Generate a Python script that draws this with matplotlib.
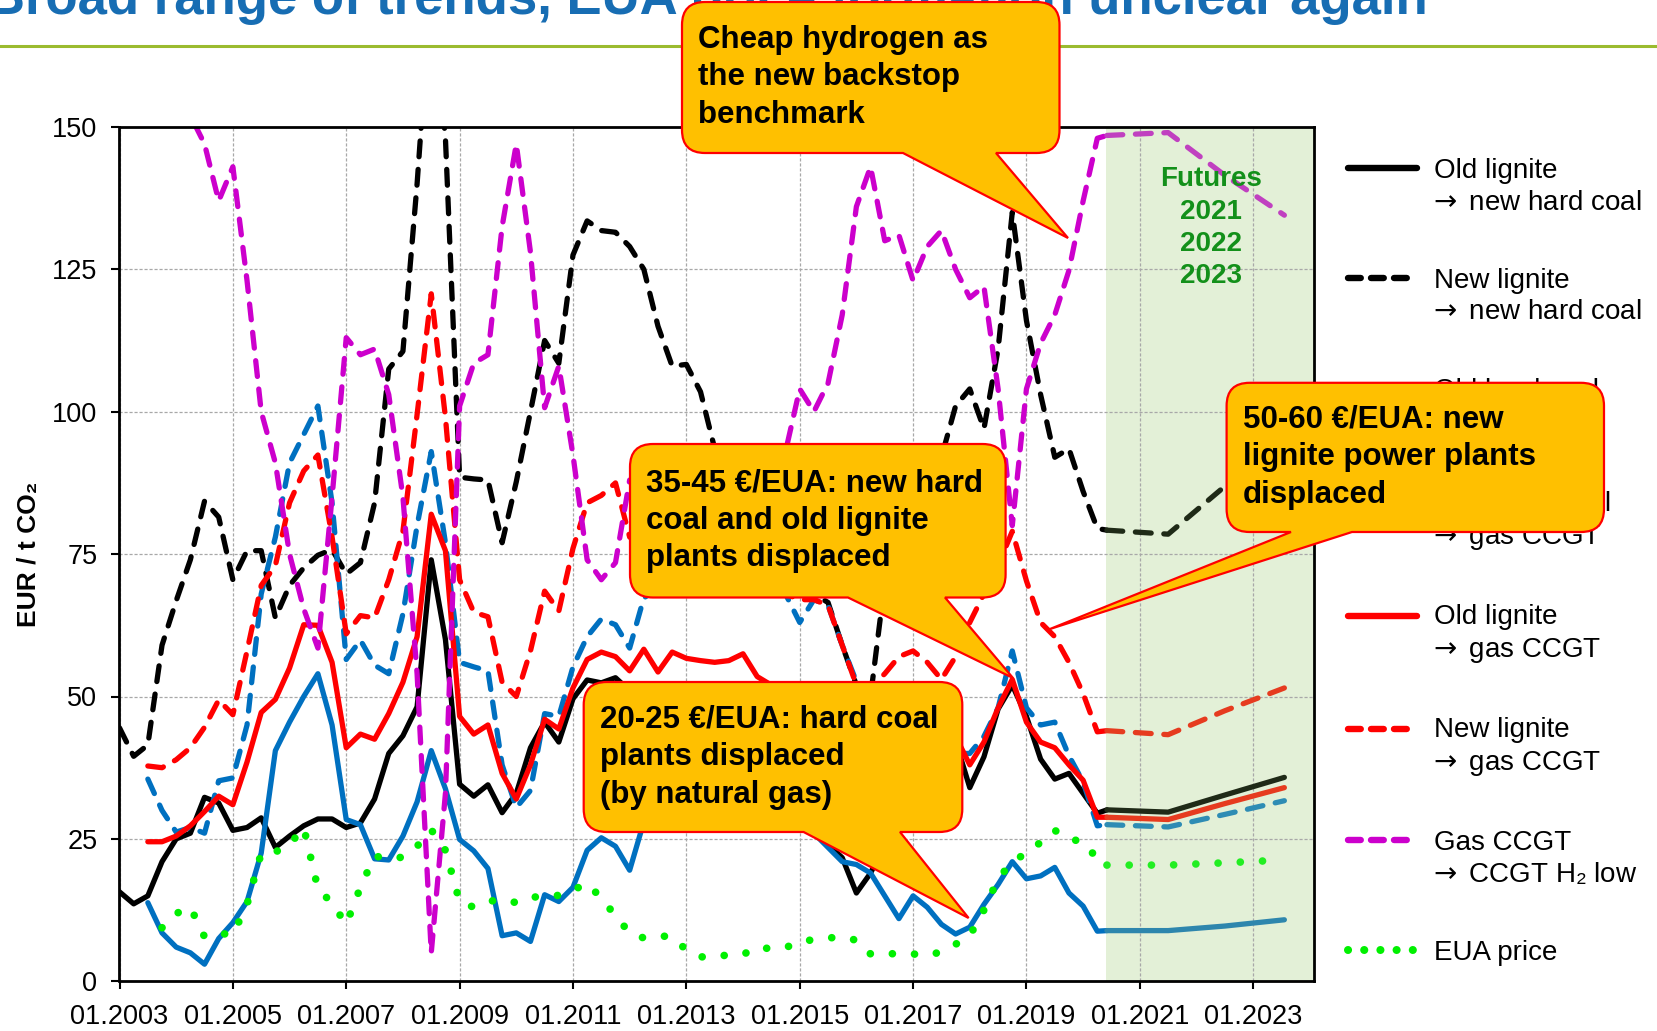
"""EUA fuel-switch price chart with futures and callouts (recreation)."""

import numpy as np
import matplotlib

matplotlib.use("Agg")
import matplotlib.pyplot as plt  # noqa: E402
from matplotlib.lines import Line2D  # noqa: E402
from matplotlib.path import Path  # noqa: E402
from matplotlib.patches import PathPatch  # noqa: E402
from matplotlib.legend_handler import HandlerLine2D  # noqa: E402

plt.rcParams["font.family"] = ["Liberation Sans", "DejaVu Sans"]

W, H = 1658, 1031
nan = np.nan

# ---- data (EUR / t CO2), quarterly from 01.2003 to 2020.25 ----
quarters = 2003 + np.arange(70) / 4.0

old_lig_hc = [15.7, 13.6, 15.0, 21.0, 25.0, 26.0, 32.3, 31.3, 26.5, 27.0, 28.7, 23.5,
              25.5, 27.3, 28.5, 28.5, 27.0, 27.8, 32.0, 40.0, 43.1, 48.2, 74.0, 60.0,
              34.6, 32.5, 34.5, 29.6, 33.0, 41.0, 45.5, 42.0, 49.6, 52.9, 52.4, 53.3,
              51.0, 49.0, 47.0, 45.0, 44.0, 43.0, 42.0, 40.0, 38.0, 36.0, 34.0, 31.0,
              28.0, 26.0, 24.0, 21.7, 15.5, 19.0, 24.0, 30.0, 34.0, 37.0, 40.0, 42.2,
              34.0, 39.4, 47.8, 52.0, 46.5, 39.0, 35.5, 36.5, 33.0, 29.5]
new_lig_hc = [44.5, 39.5, 41.5, 59.0, 66.8, 74.0, 84.3, 81.5, 70.5, 75.6, 75.6, 63.8,
              69.5, 72.6, 74.8, 75.8, 71.5, 73.5, 84.0, 107.5, 110.6, 140.0, 175.0, 148.0,
              88.5, 88.2, 88.0, 77.0, 87.7, 100.0, 112.5, 108.5, 127.5, 133.5, 131.8, 131.5,
              129.0, 125.0, 115.0, 108.0, 108.3, 103.5, 93.5, 88.0, 85.0, 82.0, 78.0, 74.0,
              70.0, 68.0, 66.5, 59.0, 52.0, 50.0, 70.0, 80.0, 85.0, 88.0, 92.0, 101.0,
              104.0, 97.0, 111.0, 135.0, 116.0, 103.0, 92.0, 93.5, 86.0, 79.5]
old_hc_gas = [nan, nan, 13.8, 8.5, 6.0, 5.0, 3.0, 7.5, 10.3, 14.0, 22.5, 40.5,
              45.5, 50.0, 54.0, 45.0, 28.4, 27.5, 21.5, 21.3, 25.5, 31.5, 40.5, 33.8,
              24.9, 22.9, 19.8, 8.0, 8.5, 7.0, 15.2, 14.0, 16.5, 23.0, 25.2, 23.7,
              19.5, 28.0, 31.0, 33.0, 34.0, 34.0, 33.0, 32.0, 31.0, 30.0, 29.0, 28.0,
              27.0, 26.0, 23.5, 21.0, 20.5, 19.0, 15.0, 11.0, 15.0, 13.0, 10.0, 8.3,
              9.5, 13.5, 17.0, 21.0, 18.0, 18.5, 20.0, 15.5, 13.2, 8.8]
new_hc_gas = [nan, nan, 35.5, 30.0, 26.2, 27.0, 26.0, 35.2, 35.7, 45.0, 68.0, 78.0,
              91.0, 96.0, 101.0, 84.0, 56.5, 59.9, 55.5, 54.0, 64.5, 80.0, 93.0, 77.0,
              56.0, 55.2, 54.5, 38.0, 30.5, 33.5, 47.0, 46.5, 55.2, 60.5, 63.6, 62.6,
              58.5, 67.3, 69.0, 71.0, 72.0, 72.0, 71.0, 70.0, 70.0, 69.5, 69.0, 68.0,
              63.0, 67.0, 66.0, 59.0, 52.6, 46.0, 41.0, 37.0, 38.0, 39.0, 37.0, 40.0,
              40.0, 43.0, 48.0, 58.0, 48.0, 45.0, 45.5, 39.6, 35.0, 27.3]
old_lig_gas = [nan, nan, 24.5, 24.5, 25.5, 27.3, 29.8, 32.5, 31.0, 38.5, 47.2, 49.5,
               55.0, 62.6, 62.5, 56.0, 41.0, 43.4, 42.5, 47.0, 52.5, 60.5, 82.0, 75.6,
               46.5, 43.4, 45.0, 36.5, 32.0, 38.0, 46.0, 44.3, 51.5, 56.5, 57.8, 57.0,
               54.5, 58.3, 54.3, 57.8, 56.7, 56.3, 56.0, 56.3, 57.5, 53.5, 52.0, 50.0,
               46.0, 42.0, 37.0, 32.0, 29.0, 31.0, 33.0, 35.0, 37.0, 39.0, 41.0, 43.0,
               38.0, 42.0, 48.0, 53.0, 45.5, 42.0, 41.0, 38.0, 35.3, 28.8]
new_lig_gas = [nan, nan, 37.8, 37.5, 38.9, 41.0, 44.6, 49.4, 46.8, 58.0, 69.5, 73.0,
               84.0, 89.6, 92.4, 78.0, 61.0, 64.2, 63.8, 70.5, 79.0, 99.5, 120.7, 99.0,
               70.5, 64.8, 64.0, 52.5, 50.0, 58.0, 68.5, 65.0, 76.0, 84.0, 85.3, 87.5,
               78.0, 76.0, 75.0, 76.0, 77.0, 76.0, 75.0, 74.0, 73.0, 72.0, 70.0, 68.0,
               67.0, 67.0, 66.0, 59.0, 52.0, 51.5, 54.0, 57.0, 58.0, 56.0, 53.0, 57.0,
               63.0, 68.0, 73.0, 79.0, 70.3, 63.0, 60.5, 56.0, 50.5, 43.8]
gas_h2 = [nan, nan, nan, nan, 160.0, 152.0, 147.0, 137.0, 143.0, 123.0, 100.0, 91.0,
          75.0, 65.4, 58.5, 85.0, 113.0, 110.0, 111.0, 103.0, 85.0, 54.0, 5.0, 33.0,
          101.0, 108.5, 110.0, 132.5, 147.0, 128.0, 100.7, 108.0, 92.4, 74.0, 70.5, 73.5,
          88.0, 84.0, 80.0, 78.0, 78.0, 80.0, 82.0, 84.0, 86.0, 88.0, 90.0, 93.0,
          104.0, 100.0, 105.0, 117.0, 136.0, 143.0, 130.0, 131.0, 123.0, 129.0, 131.8, 125.0,
          120.0, 122.0, 104.0, 80.0, 104.0, 112.0, 117.0, 124.8, 137.0, 148.0]
eua = [nan, nan, nan, 9.4, 11.9, 13.0, 7.8, 8.4, 8.2, 13.5, 22.5, 22.7,
       24.0, 27.0, 16.3, 13.7, 10.0, 16.5, 22.0, 21.5, 21.8, 23.7, 26.6, 23.0,
       14.0, 13.0, 14.0, 14.4, 13.8, 14.8, 14.8, 15.1, 16.0, 17.2, 14.6, 11.5,
       8.5, 7.6, 8.0, 7.8, 5.5, 4.3, 4.2, 4.7, 4.7, 6.0, 5.7, 5.9,
       7.0, 7.3, 7.6, 7.8, 7.2, 4.8, 5.0, 4.7, 4.8, 4.5, 5.2, 6.5,
       8.0, 12.5, 18.0, 21.0, 22.5, 24.4, 26.5, 25.0, 24.5, 21.5]

# futures 2021 / 2022 / 2023 (first point = start of futures window)
fut_t = [2020.42, 2021.5, 2022.5, 2023.55]
fut_old_lig_hc = [30.1, 29.7, 32.7, 35.8]
fut_new_lig_hc = [79.2, 78.5, 86.9, 94.0]
fut_old_hc_gas = [8.9, 8.9, 9.7, 10.8]
fut_new_hc_gas = [27.5, 27.1, 29.3, 31.7]
fut_old_lig_gas = [28.8, 28.4, 31.2, 34.0]
fut_new_lig_gas = [44.0, 43.3, 47.5, 51.5]
fut_gas_h2 = [148.5, 149.0, 141.5, 134.5]
fut_eua = [20.4, 20.4, 20.8, 21.3]

futures_start = 2020.41
year_ticks = list(range(2003, 2024, 2))

DASH = (3.0, 2.4)
DOT = (0.01, 2.9)
ARROW = r"$\!\!\!\rightarrow$"

series = [
    (f"Old lignite\n{ARROW} new hard coal", old_lig_hc, fut_old_lig_hc, "#000000", "#1f2a17", None),
    (f"New lignite\n{ARROW} new hard coal", new_lig_hc, fut_new_lig_hc, "#000000", "#1f2a17", DASH),
    (f"Old hard coal\n{ARROW} gas CCGT", old_hc_gas, fut_old_hc_gas, "#0070c0", "#2e86ad", None),
    (f"New hard coal\n{ARROW} gas CCGT", new_hc_gas, fut_new_hc_gas, "#0070c0", "#2e8cb4", DASH),
    (f"Old lignite\n{ARROW} gas CCGT", old_lig_gas, fut_old_lig_gas, "#ff0000", "#e63b1f", None),
    (f"New lignite\n{ARROW} gas CCGT", new_lig_gas, fut_new_lig_gas, "#ff0000", "#e63b1f", DASH),
    (f"Gas CCGT\n{ARROW} CCGT H₂ low", gas_h2, fut_gas_h2, "#cc00cc", "#c040c0", DASH),
    ("EUA price", eua, fut_eua, "#00f000", "#22ee22", DOT),
]


class UpperLine(HandlerLine2D):
    """Legend line raised to the first row of a two-line label."""

    def __init__(self, shift, **kw):
        super().__init__(**kw)
        self.shift = shift

    def create_artists(self, legend, orig_handle, xdescent, ydescent, width, height,
                       fontsize, trans):
        arts = super().create_artists(legend, orig_handle, xdescent, ydescent, width,
                                      height, fontsize, trans)
        for a in arts:
            a.set_ydata(np.asarray(a.get_ydata(), float) + self.shift)
        return arts


def callout(fig, box, base, tip, lines, fs=22.5):
    """Rounded callout box with a pointer; coordinates in image pixels (y down)."""
    x0, y0, x1, y1 = box
    r = 23
    ba, bb = base
    pts = [
        ((x0 + r, y0), Path.MOVETO), ((x1 - r, y0), Path.LINETO),
        ((x1, y0), Path.CURVE3), ((x1, y0 + r), Path.CURVE3),
        ((x1, y1 - r), Path.LINETO),
        ((x1, y1), Path.CURVE3), ((x1 - r, y1), Path.CURVE3),
        ((bb, y1), Path.LINETO), (tip, Path.LINETO), ((ba, y1), Path.LINETO),
        ((x0 + r, y1), Path.LINETO),
        ((x0, y1), Path.CURVE3), ((x0, y1 - r), Path.CURVE3),
        ((x0, y0 + r), Path.LINETO),
        ((x0, y0), Path.CURVE3), ((x0 + r, y0), Path.CURVE3),
        ((x0 + r, y0), Path.CLOSEPOLY),
    ]
    verts = [(px / W, 1 - py / H) for (px, py), _ in pts]
    codes = [c for _, c in pts]
    patch = PathPatch(Path(verts, codes), transform=fig.transFigure,
                      facecolor="#ffc000", edgecolor="#ff0000", lw=1.6, zorder=10)
    fig.add_artist(patch)
    ty = (y0 + y1) / 2
    fig.text((x0 + 16) / W, 1 - ty / H, lines, ha="left", va="center",
             fontsize=fs, fontweight="bold", linespacing=1.33, zorder=11)


def main() -> None:
    fig = plt.figure(figsize=(W / 100, H / 100), dpi=100)
    ax = fig.add_axes([119.5 / W, 1 - 981.3 / H, (1314.4 - 119.5) / W, (981.3 - 126.9) / H])

    ax.axvspan(futures_start, 2024.08, color="#e3f0d7", zorder=0, lw=0)

    handles = []
    hmap = {}
    for label, hist, fut, col, fcol, dash in series:
        t_h = list(quarters) + [fut_t[0]]
        v_h = list(hist) + [fut[0]]
        lw = 5.5 if dash is DOT else 3.8
        kw = dict(lw=lw, solid_capstyle="round", dash_capstyle="round", zorder=3)
        if dash is None:
            ax.plot(t_h, v_h, color=col, **kw)
            ax.plot(fut_t, fut, color=fcol, **kw)
        else:
            ax.plot(t_h, v_h, color=col, dashes=dash, **kw)
            ax.plot(fut_t, fut, color=fcol, dashes=dash, **kw)
        hkw = dict(lw=4.6, solid_capstyle="round", dash_capstyle="round")
        if dash is None:
            h = Line2D([], [], color=col, **hkw)
        elif dash is DOT:
            h = Line2D([], [], color=col, lw=5.8, dashes=(0.01, 2.0), dash_capstyle="round")
        else:
            h = Line2D([], [], color=col, dashes=(2.0, 1.6), **hkw)
        handles.append(h)
        hmap[h] = UpperLine(shift=13.5 if "\n" in label else 0.0)

    ax.set_xlim(2003, 2024.08)
    ax.set_ylim(0, 150)
    ax.set_yticks([0, 25, 50, 75, 100, 125, 150])
    ax.set_xticks(year_ticks)
    ax.set_xticklabels([f"01.{y}" for y in year_ticks])
    ax.tick_params(axis="both", labelsize=19.5, length=6, width=1.5, direction="out")
    ax.tick_params(axis="x", pad=10)
    ax.tick_params(axis="y", pad=10)
    ax.grid(True, color="#a8a8a8", ls=(0, (2.5, 1.5)), lw=0.9, zorder=1)
    for sp in ax.spines.values():
        sp.set_linewidth(2.0)
        sp.set_zorder(4)
    ax.set_ylabel("EUR / t CO₂", fontsize=19, fontweight="bold", labelpad=8)

    ax.text(2022.26, 132.3, "Futures\n2021\n2022\n2023", ha="center", va="center",
            fontsize=20, fontweight="bold", color="#13901a", linespacing=1.31, zorder=5)

    leg = ax.legend(handles, [s[0] for s in series], loc="upper left",
                    bbox_to_anchor=(1348 / W, 1 - 158 / H), bbox_transform=fig.transFigure,
                    frameon=False, fontsize=20, handlelength=2.5, handletextpad=0.6,
                    labelspacing=1.88, borderpad=0, borderaxespad=0, handler_map=hmap)
    for t in leg.get_texts():
        t.set_linespacing(1.28)

    # title strip (cut off at the top of the slide) and separator line
    fig.text(1428 / W, 1 - 14 / H, "Broad range of trends, EUA price formation unclear again",
             ha="right", va="baseline", fontsize=38, fontweight="bold", color="#176db3")
    fig.add_artist(Line2D([0, 1], [1 - 45.5 / H] * 2, transform=fig.transFigure,
                          color="#9bbb2f", lw=2.2))

    callout(fig, (682, 2, 1059.5, 153), (903, 996), (1068, 238),
            "Cheap hydrogen as\nthe new backstop\nbenchmark")
    callout(fig, (630, 444, 1005.6, 597.5), (848, 945), (1013, 678),
            "35-45 €/EUA: new hard\ncoal and old lignite\nplants displaced")
    callout(fig, (1226.6, 382.8, 1604, 532), (1291, 1352), (1050, 629),
            "50-60 €/EUA: new\nlignite power plants\ndisplaced")
    callout(fig, (583.7, 682, 962.3, 832), (803.6, 900), (968.6, 918),
            "20-25 €/EUA: hard coal\nplants displaced\n(by natural gas)")

    fig.savefig("out.png", dpi=100)
    plt.close(fig)


if __name__ == "__main__":
    main()
